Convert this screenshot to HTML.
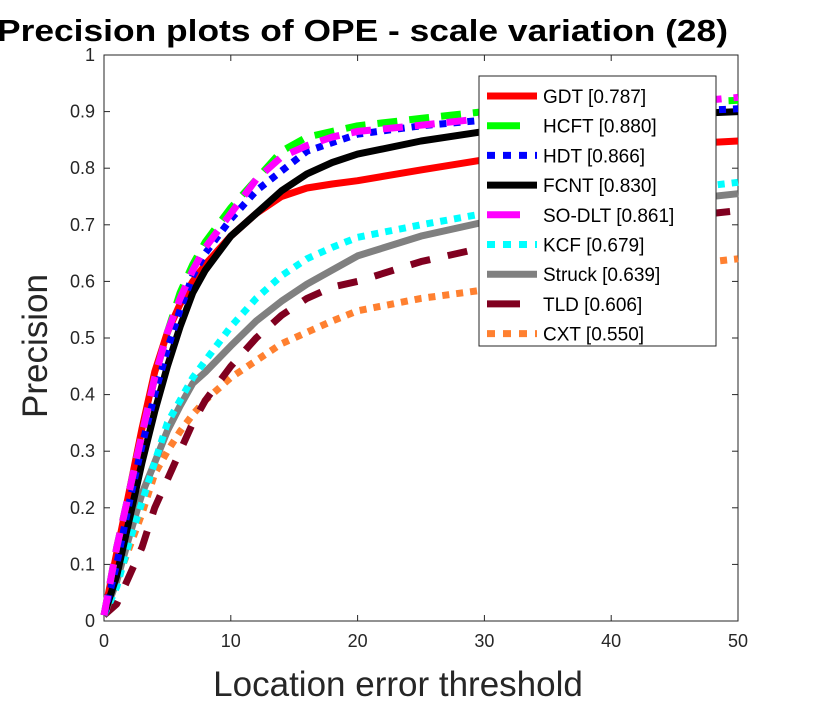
<!DOCTYPE html>
<html><head><meta charset="utf-8"><style>
html,body{margin:0;padding:0;background:#fff;}
svg{display:block;font-family:"Liberation Sans",sans-serif;}
</style></head><body>
<svg id="chart" width="830" height="705" viewBox="0 0 830 705">
<rect width="830" height="705" fill="#fff"/>
<text x="-3" y="41" textLength="731" lengthAdjust="spacingAndGlyphs" font-size="31" font-weight="bold">Precision plots of OPE - scale variation (28)</text>
<g id="axes"></g>
<g id="series"></g>
<g id="legend"></g>
<text transform="translate(47,346) rotate(-90)" text-anchor="middle" font-size="35" fill="#262626">Precision</text>
<text x="398" y="696" text-anchor="middle" font-size="35" fill="#262626">Location error threshold</text>
</svg>
<script>
const xTicks = [0,10,20,30,40,50];
const yTicks = [0,0.1,0.2,0.3,0.4,0.5,0.6,0.7,0.8,0.9,1];
const yTickLabels = ["0","0.1","0.2","0.3","0.4","0.5","0.6","0.7","0.8","0.9","1"];
const xs = [0,1,2,3,4,5,6,7,8,10,12,14,16,18,20,25,30,35,40,45,50];
const seriesNames = ["GDT [0.787]","HCFT [0.880]","HDT [0.866]","FCNT [0.830]","SO-DLT [0.861]","KCF [0.679]","Struck [0.639]","TLD [0.606]","CXT [0.550]"];
const gdt   = [0.01,0.12,0.23,0.34,0.44,0.51,0.56,0.60,0.63,0.68,0.72,0.75,0.765,0.772,0.778,0.797,0.815,0.825,0.835,0.842,0.848];
const hcft  = [0.01,0.13,0.23,0.33,0.43,0.51,0.58,0.63,0.67,0.73,0.78,0.83,0.855,0.865,0.875,0.888,0.90,0.905,0.91,0.915,0.92];
const hdt   = [0.01,0.10,0.21,0.31,0.40,0.48,0.55,0.61,0.65,0.71,0.76,0.795,0.83,0.845,0.86,0.875,0.885,0.89,0.895,0.90,0.905];
const fcnt  = [0.01,0.08,0.18,0.28,0.37,0.45,0.52,0.58,0.62,0.68,0.72,0.76,0.79,0.81,0.825,0.848,0.865,0.878,0.888,0.895,0.90];
const sodlt = [0.01,0.13,0.23,0.33,0.43,0.51,0.57,0.62,0.66,0.72,0.78,0.82,0.84,0.855,0.865,0.876,0.888,0.895,0.905,0.915,0.925];
const kcf   = [0.01,0.06,0.14,0.21,0.28,0.35,0.39,0.43,0.46,0.52,0.57,0.61,0.64,0.66,0.678,0.70,0.72,0.735,0.75,0.762,0.775];
const struck= [0.01,0.07,0.15,0.225,0.28,0.336,0.38,0.42,0.44,0.486,0.53,0.565,0.595,0.62,0.645,0.68,0.705,0.72,0.73,0.743,0.755];
const tld   = [0.01,0.03,0.08,0.13,0.20,0.25,0.30,0.35,0.39,0.45,0.50,0.54,0.57,0.59,0.60,0.635,0.66,0.68,0.70,0.713,0.725];
const cxt   = [0.01,0.07,0.13,0.19,0.26,0.30,0.335,0.365,0.39,0.43,0.46,0.49,0.51,0.53,0.548,0.57,0.585,0.60,0.615,0.628,0.64];
const seriesData = [gdt,hcft,hdt,fcnt,sodlt,kcf,struck,tld,cxt];
const colors = ["#ff0000","#00ff00","#0000ff","#000000","#ff00ff","#00ffff","#808080","#800020","#ff8030"];
const dashes = ["", "20 12", "7 7", "", "20 12", "7 7", "", "20 18", "7 7"];
const widths = [7,7,7,7,7,7,7,7,7];
const drawOrder = [8,7,6,5,0,3,2,1,4];

const X0=104,X1=738,Y0=621,Y1=55;
const NS="http://www.w3.org/2000/svg";
function sx(v){return X0+(v-0)/(50-0)*(X1-X0);}
function sy(v){return Y0-(v-0)/(1-0)*(Y0-Y1);}
function mk(tag,attrs,parent){const e=document.createElementNS(NS,tag);for(const k in attrs)e.setAttribute(k,attrs[k]);parent.appendChild(e);return e;}

const axes=document.getElementById('axes');
const box=mk('rect',{x:X0,y:Y1,width:X1-X0,height:Y0-Y1,fill:'none',stroke:'#262626','stroke-width':1},axes);


xTicks.forEach((t,i)=>{
  const x=sx(t);
  const l1=mk('line',{x1:x,y1:Y0,x2:x,y2:Y0-6,stroke:'#262626'},axes);
  
  
  mk('line',{x1:x,y1:Y1,x2:x,y2:Y1+6,stroke:'#262626'},axes);
  const tx=mk('text',{x:x,y:Y0+26,'text-anchor':'middle','font-size':18,fill:'#262626'},axes);
  tx.textContent=String(t);
  
  
});
yTicks.forEach((t,i)=>{
  const y=sy(t);
  const l1=mk('line',{x1:X0,y1:y,x2:X0+6,y2:y,stroke:'#262626'},axes);
  
  
  mk('line',{x1:X1,y1:y,x2:X1-6,y2:y,stroke:'#262626'},axes);
  const tx=mk('text',{x:X0-9,y:y+6,'text-anchor':'end','font-size':18,fill:'#262626'},axes);
  tx.textContent=yTickLabels[i];
  
  
});

const sg=document.getElementById('series');
drawOrder.forEach(i=>{
  const d=seriesData[i].map((v,j)=>(j?'L':'M')+sx(xs[j]).toFixed(1)+','+sy(v).toFixed(1)).join(' ');
  const p=mk('path',{d:d,fill:'none',stroke:colors[i],'stroke-width':widths[i],'stroke-linejoin':'round'},sg);
  if(dashes[i])p.setAttribute('stroke-dasharray',dashes[i]);
  
  
});

const lg=document.getElementById('legend');
const lb=mk('rect',{x:479,y:76,width:237,height:270,fill:'#fff',stroke:'#262626','stroke-width':1},lg);


seriesNames.forEach((n,i)=>{
  const y=96+i*29.7;
  const ln=mk('line',{x1:487,y1:y,x2:dashes[i]?(dashes[i]==="7 7"?537:520):537,y2:y,stroke:colors[i],'stroke-width':7},lg);
  if(dashes[i]==="7 7")ln.setAttribute('stroke-dasharray','8 8');
  
  
  const t=mk('text',{x:543,y:y+7,'font-size':19,fill:'#000'},lg);
  t.textContent=n;
  
  
});
</script>
</body></html>
